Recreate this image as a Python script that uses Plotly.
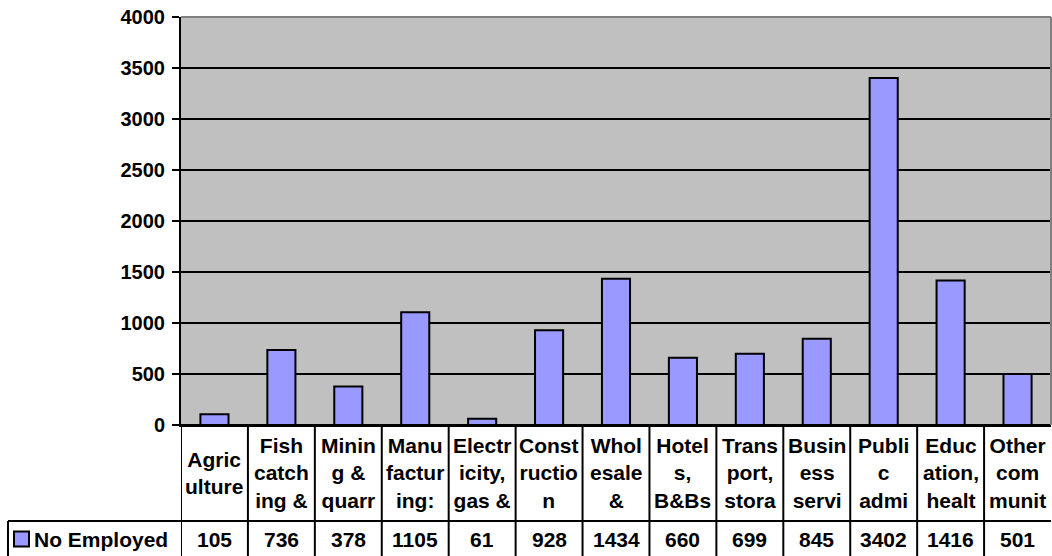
import plotly.graph_objects as go

# ---- data ----
categories = [
    "Agriculture", "Fish catching &", "Mining & quarr", "Manufacturing:",
    "Electricity, gas &", "Construction", "Wholesale &", "Hotels, B&Bs",
    "Transport, stora", "Business servi", "Public admi", "Education, healt",
    "Other communit",
]
# category text as it wraps inside the data-table cells
category_lines = [
    ["Agric", "ulture"], ["Fish", "catch", "ing &"], ["Minin", "g &", "quarr"],
    ["Manu", "factur", "ing:"], ["Electr", "icity,", "gas &"],
    ["Const", "ructio", "n"], ["Whol", "esale", "&"], ["Hotel", "s,", "B&Bs"],
    ["Trans", "port,", "stora"], ["Busin", "ess", "servi"], ["Publi", "c", "admi"],
    ["Educ", "ation,", "healt"], ["Other", "com", "munit"],
]
series_name = "No Employed"
employed = [105, 736, 378, 1105, 61, 928, 1434, 660, 699, 845, 3402, 1416, 501]
y_ticks = [0, 500, 1000, 1500, 2000, 2500, 3000, 3500, 4000]

# ---- layout geometry (pixels) ----
W, H = 1052, 556
ML, MR, MT, MB = 181, 1, 17, 131
PLOT_W = W - ML - MR
PLOT_H = H - MT - MB
AXIS_Y = H - MB            # pixel row of the category axis
LABEL_ROW_BOTTOM = 521
VALUE_ROW_CENTER = 539
TABLE_BOTTOM = 570
LEGEND_LEFT = 8

BAR_COLOR = "#9999FF"
FONT = "Liberation Sans, Arial, sans-serif"


def py(p):
    """pixel row -> paper y"""
    return (AXIS_Y - p) / PLOT_H


def px(p):
    """pixel column -> paper x"""
    return (p - ML) / PLOT_W


fig = go.Figure(
    go.Bar(
        x=categories,
        y=employed,
        marker=dict(color=BAR_COLOR, line=dict(color="black", width=2)),
        name=series_name,
        showlegend=False,
    )
)

shapes = []
annotations = []

# plot-area frame: grey top/right edges
shapes.append(dict(type="line", xref="paper", yref="paper", x0=0, x1=1, y0=1, y1=1,
                   line=dict(color="#808080", width=2), layer="above"))
shapes.append(dict(type="line", xref="paper", yref="paper", x0=1, x1=1, y0=0, y1=1,
                   line=dict(color="#808080", width=2), layer="above"))

# data table: column separators
n = len(categories)
for i in range(n):
    shapes.append(dict(type="line", xref="x", yref="paper", x0=i - 0.5, x1=i - 0.5,
                       y0=0, y1=py(TABLE_BOTTOM), line=dict(color="black", width=2)))
# row separator and legend cell
shapes.append(dict(type="line", xref="paper", yref="paper", x0=px(LEGEND_LEFT), x1=1,
                   y0=py(LABEL_ROW_BOTTOM), y1=py(LABEL_ROW_BOTTOM),
                   line=dict(color="black", width=2)))
shapes.append(dict(type="line", xref="paper", yref="paper", x0=px(LEGEND_LEFT), x1=px(LEGEND_LEFT),
                   y0=py(LABEL_ROW_BOTTOM), y1=py(TABLE_BOTTOM),
                   line=dict(color="black", width=2)))
# legend key square
shapes.append(dict(type="rect", xref="paper", yref="paper",
                   x0=px(14), x1=px(29), y0=py(VALUE_ROW_CENTER - 7.5), y1=py(VALUE_ROW_CENTER + 7.5),
                   fillcolor=BAR_COLOR, line=dict(color="black", width=2)))

table_font = dict(family=FONT, size=21, color="black", weight="bold")

for i, (lines, val) in enumerate(zip(category_lines, employed)):
    annotations.append(dict(xref="x", yref="paper", x=i, y=py((AXIS_Y + LABEL_ROW_BOTTOM) / 2),
                            text="<br>".join(lines), showarrow=False, xanchor="center",
                            yanchor="middle", align="center", font=table_font))
    annotations.append(dict(xref="x", yref="paper", x=i, y=py(VALUE_ROW_CENTER),
                            text=str(val), showarrow=False, xanchor="center",
                            yanchor="middle", font=table_font))

annotations.append(dict(xref="paper", yref="paper", x=px(32), y=py(VALUE_ROW_CENTER),
                        text=series_name, showarrow=False, xanchor="left",
                        yanchor="middle", font=table_font))

fig.update_layout(
    width=W, height=H,
    margin=dict(l=ML, r=MR, t=MT, b=MB, pad=0),
    paper_bgcolor="white",
    plot_bgcolor="#C0C0C0",
    bargap=0.58,
    font=dict(family=FONT, size=20, color="black"),
    shapes=shapes,
    annotations=annotations,
)
fig.update_xaxes(
    type="category", range=[-0.5, n - 0.5], showticklabels=False, ticks="",
    showgrid=False, showline=True, linecolor="black", linewidth=2, zeroline=False,
)
fig.update_yaxes(
    range=[0, 4000], tickvals=y_ticks, ticks="outside", ticklen=7, tickwidth=2,
    tickcolor="black", showline=True, linecolor="black", linewidth=2,
    showgrid=True, gridcolor="black", gridwidth=2, zeroline=True,
    zerolinecolor="black", zerolinewidth=2,
    tickfont=dict(family=FONT, size=20, color="black", weight="bold"),
    ticklabelstandoff=3,
)

fig.write_html("out.html")
